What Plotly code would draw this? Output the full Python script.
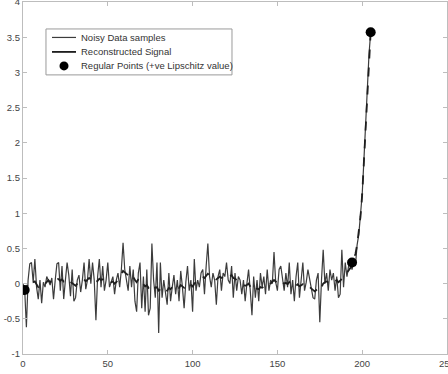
import plotly.graph_objects as go

noisy = [
    0.0, -0.09, -0.62, 0.05, 0.28, 0.30, 0.02, 0.35, -0.05, -0.22,
    0.05, -0.28, 0.02, -0.05, 0.10, 0.05, -0.02, 0.08, -0.22, 0.05,
    0.28, 0.30, -0.10, 0.25, -0.22, 0.05, 0.30, 0.12, -0.18, 0.20,
    -0.25, -0.20, 0.05, 0.12, -0.12, 0.05, 0.30, -0.08, 0.05, 0.35,
    0.0, 0.30, 0.05, -0.52, 0.10, 0.35, -0.05, 0.25, -0.10, 0.05,
    0.30, -0.05, 0.02, 0.10, -0.15, 0.05, 0.15, -0.05, 0.20, 0.58,
    0.20, 0.05, -0.10, 0.25, -0.05, 0.20, -0.25, -0.40, 0.15, 0.30,
    -0.35, 0.10, -0.40, 0.20, -0.45, -0.35, 0.57, 0.05, -0.20, 0.30,
    -0.70, 0.30, -0.20, 0.05, -0.10, -0.30, 0.15, -0.25, -0.05, 0.12,
    -0.15, 0.05, -0.25, 0.18, -0.05, -0.35, 0.02, 0.25, -0.10, 0.05,
    -0.40, 0.35, -0.10, 0.05, -0.05, 0.15, 0.20, -0.15, 0.25, 0.57,
    0.10, -0.05, 0.15, 0.05, -0.30, 0.10, 0.20, -0.10, 0.15, 0.10,
    0.30, 0.05, 0.0, 0.25, -0.20, 0.15, -0.10, 0.10, 0.05, -0.15,
    0.05, -0.25, 0.0, 0.20, -0.10, -0.45, 0.10, -0.20, 0.05, -0.25,
    0.15, -0.05, 0.10, -0.15, 0.20, -0.10, 0.05, 0.0, 0.45, 0.02,
    -0.10, 0.20, 0.25, 0.05, -0.10, 0.15, -0.05, 0.30, -0.15, 0.05,
    -0.25, 0.10, 0.30, -0.20, 0.05, 0.30, -0.10, 0.02, 0.20, 0.05,
    -0.10, -0.20, -0.22, 0.05, 0.15, -0.55, 0.05, 0.48, 0.0, 0.15,
    -0.10, 0.20, 0.05, 0.15, -0.10, 0.10, -0.20, -0.15, 0.48, -0.05,
    0.30, 0.10, 0.25, 0.30, 0.20, 0.32, 0.25, 0.55, 0.70, 0.95,
    1.27, 1.75, 2.30, 2.85, 3.25, 3.57,
]

reconstructed = [
    -0.05, -0.09, -0.05, 0.0, 0.03, 0.05, 0.02, 0.03, -0.02, -0.05,
    -0.04, -0.06, -0.03, 0.0, 0.03, 0.05, 0.02, 0.04, 0.02, 0.05,
    0.08, 0.06, 0.04, 0.06, 0.03, 0.05, 0.07, 0.04, 0.02, 0.0,
    -0.02, -0.03, 0.0, 0.03, 0.02, 0.04, 0.06, 0.03, 0.05, 0.08,
    0.06, 0.08, 0.05, 0.02, 0.04, 0.07, 0.05, 0.06, 0.03, 0.04,
    0.05, 0.03, 0.02, 0.03, 0.0, 0.02, 0.06, 0.10, 0.14, 0.18,
    0.16, 0.14, 0.12, 0.15, 0.12, 0.10, 0.05, 0.02, 0.06, 0.08,
    0.02, -0.02, -0.04, -0.02, -0.06, -0.04, 0.0, -0.02, -0.06, -0.05,
    -0.10, -0.08, -0.06, -0.04, -0.07, -0.10, -0.06, -0.08, -0.05, -0.03,
    -0.05, -0.03, -0.06, -0.02, -0.04, -0.06, -0.03, 0.0, -0.02, -0.01,
    -0.05, 0.0, 0.02, 0.03, 0.05, 0.08, 0.10, 0.08, 0.12, 0.14,
    0.12, 0.10, 0.11, 0.09, 0.06, 0.08, 0.10, 0.08, 0.10, 0.12,
    0.13, 0.11, 0.10, 0.12, 0.08, 0.07, 0.05, 0.04, 0.02, 0.0,
    -0.01, -0.03, -0.02, 0.0, -0.04, -0.08, -0.06, -0.09, -0.07, -0.08,
    -0.05, -0.06, -0.04, -0.05, -0.02, -0.03, 0.0, 0.02, 0.05, 0.03,
    0.0, 0.02, 0.04, 0.02, 0.0, 0.01, -0.01, 0.02, -0.02, -0.03,
    -0.05, -0.03, -0.01, -0.04, -0.03, -0.01, -0.04, -0.05, -0.03, -0.05,
    -0.08, -0.10, -0.11, -0.09, -0.07, -0.10, -0.05, 0.0, 0.02, 0.03,
    0.02, 0.04, 0.05, 0.06, 0.03, 0.05, 0.02, 0.04, 0.08, 0.10,
    0.12, 0.15, 0.18, 0.22, 0.30, 0.35, 0.42, 0.55, 0.72, 0.95,
    1.27, 1.70, 2.20, 2.70, 3.15, 3.57,
]

samples = list(range(len(noisy)))

regular_x = [1, 194, 205]
regular_y = [-0.09, 0.30, 3.57]

x_ticks = [0, 50, 100, 150, 200, 250]
x_tick_labels = ["0", "50", "100", "150", "200", "250"]
y_ticks = [-1, -0.5, 0, 0.5, 1, 1.5, 2, 2.5, 3, 3.5, 4]
y_tick_labels = ["-1", "-0.5", "0", "0.5", "1", "1.5", "2", "2.5", "3", "3.5", "4"]

legend_labels = ["Noisy Data samples", "Reconstructed Signal",
                 "Regular Points (+ve Lipschitz value)"]

NOISY_COLOR = "#3c3c3c"
REC_COLOR = "#1e1e1e"
FONT = "Liberation Sans, Arial, sans-serif"

fig = go.Figure()
fig.add_trace(go.Scatter(
    x=samples, y=noisy, mode="lines", name=legend_labels[0],
    line=dict(color=NOISY_COLOR, width=1.2),
))
fig.add_trace(go.Scatter(
    x=samples, y=reconstructed, mode="lines", name=legend_labels[1],
    line=dict(color=REC_COLOR, width=1.8, dash="dash"),
))
fig.add_trace(go.Scatter(
    x=regular_x, y=regular_y, mode="markers", name=legend_labels[2],
    marker=dict(color="black", size=10),
))

axis_common = dict(
    showgrid=False, zeroline=False, showline=True, linecolor="#bdbdbd",
    linewidth=1.2, mirror="ticks", ticks="inside", ticklen=4,
    tickcolor="#bdbdbd", automargin=False, ticklabeloverflow="allow",
    tickfont=dict(family=FONT, size=9.5, color="#444444"),
)

# Compact MATLAB-style legend box
lx0, lx1, ly0, ly1 = 0.0542, 0.4929, 0.7929, 0.9234
row_y = [0.8993, 0.8582, 0.8184]
seg_x0, seg_x1, mark_x, text_x = 0.0684, 0.125, 0.0967, 0.132

shapes = [dict(type="rect", xref="paper", yref="paper", x0=lx0, x1=lx1, y0=ly0, y1=ly1,
               line=dict(color="#9a9a9a", width=1), fillcolor="white", layer="above")]
shapes.append(dict(type="line", xref="paper", yref="paper", x0=seg_x0, x1=seg_x1,
                   y0=row_y[0], y1=row_y[0], line=dict(color=NOISY_COLOR, width=1.2), layer="above"))
shapes.append(dict(type="line", xref="paper", yref="paper", x0=seg_x0, x1=seg_x1,
                   y0=row_y[1], y1=row_y[1], line=dict(color=REC_COLOR, width=1.8), layer="above"))
shapes.append(dict(type="circle", xref="paper", yref="paper", xsizemode="pixel", ysizemode="pixel",
                   xanchor=mark_x, yanchor=row_y[2], x0=-4.5, x1=4.5, y0=-4.5, y1=4.5,
                   fillcolor="black", line=dict(color="black", width=0), layer="above"))

annotations = [dict(xref="paper", yref="paper", x=text_x, y=ry, text=lab, showarrow=False,
                    xanchor="left", yanchor="middle",
                    font=dict(family=FONT, size=9.5, color="#333333"))
               for ry, lab in zip(row_y, legend_labels)]

fig.update_layout(
    width=448, height=374,
    margin=dict(l=23, r=1, t=2, b=20, autoexpand=False),
    paper_bgcolor="white", plot_bgcolor="white",
    font=dict(family=FONT, size=9.5, color="#333333"),
    xaxis=dict(range=[0, 250], tickvals=x_ticks, ticktext=x_tick_labels, **axis_common),
    yaxis=dict(range=[-1, 4], tickvals=y_ticks, ticktext=y_tick_labels, **axis_common),
    showlegend=False,
    shapes=shapes,
    annotations=annotations,
)

fig.write_html(
    "out.html",
    config={"displayModeBar": False},
    post_script="document.body.style.margin='0';document.body.style.overflow='hidden';",
)
